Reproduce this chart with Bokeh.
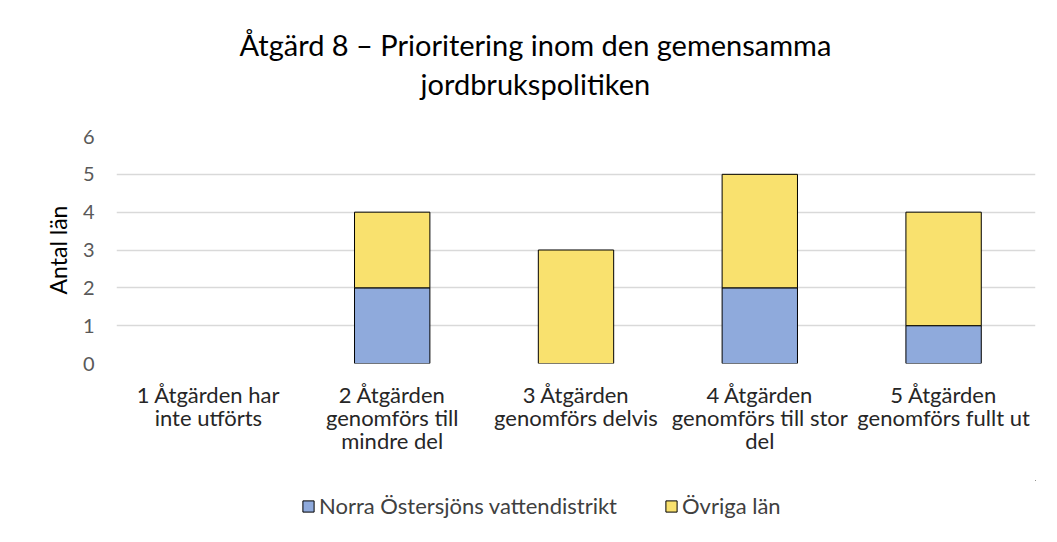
from bokeh.plotting import figure
from bokeh.models import Title, Legend, LegendItem, FactorRange
from bokeh.layouts import column
from bokeh.embed import file_html
from bokeh.resources import INLINE

categories = [
    "1 Åtgärden har\ninte utförts",
    "2 Åtgärden\ngenomförs till\nmindre del",
    "3 Åtgärden\ngenomförs delvis",
    "4 Åtgärden\ngenomförs till stor\ndel",
    "5 Åtgärden\ngenomförs fullt ut",
]
norra = [0, 2, 0, 2, 1]
ovriga = [0, 2, 3, 3, 3]
series_names = ["Norra Östersjöns vattendistrikt", "Övriga län"]
title_lines = ["Åtgärd 8 – Prioritering inom den gemensamma", "jordbrukspolitiken"]
y_label = "Antal län"

FONT = "Lato"
colors = ["#8FAADC", "#F9E16E"]

p = figure(x_range=FactorRange(*categories), y_range=(0, 6),
           width=1048, height=480, output_backend="svg", toolbar_location=None,
           title=None, min_border_left=116, min_border_right=13,
           min_border_top=136, min_border_bottom=117)

# stacked bars (skip zero-height segments so no stray outline is drawn)
bottom = [0] * len(categories)
for vals, col in ((norra, colors[0]), (ovriga, colors[1])):
    xs, bs, ts = [], [], []
    for c, b, v in zip(categories, bottom, vals):
        if v > 0:
            xs.append(c); bs.append(b); ts.append(b + v)
    p.vbar(x=xs, bottom=bs, top=ts, width=0.41, fill_color=col,
           line_color="black", line_width=1)
    bottom = [b + v for b, v in zip(bottom, vals)]

# title: spacer (closest to frame), line 2, line 1
spacer = Title(text="\u00a0", text_font=FONT, text_font_size="10px", standoff=22)
t2 = Title(text=title_lines[1], align="left", offset=304, standoff=0, text_font=FONT,
           text_font_size="29px", text_font_style="normal", text_color="#000000")
t1 = Title(text=title_lines[0], align="left", offset=123, standoff=4, text_font=FONT,
           text_font_size="29px", text_font_style="normal", text_color="#000000")
p.add_layout(spacer, "above")
p.add_layout(t2, "above")
p.add_layout(t1, "above")

p.outline_line_color = None
p.xgrid.grid_line_color = None
p.ygrid.grid_line_color = "#D9D9D9"
p.ygrid.grid_line_width = 1.5

p.yaxis.axis_label = y_label
p.yaxis.axis_label_text_font = FONT
p.yaxis.axis_label_text_font_size = "23px"
p.yaxis.axis_label_text_font_style = "normal"
p.yaxis.axis_label_text_color = "#000000"
p.yaxis.axis_label_standoff = 8
p.yaxis.ticker = [0, 1, 2, 3, 4, 5, 6]
p.yaxis.major_label_text_font = FONT
p.yaxis.major_label_text_font_size = "20px"
p.yaxis.major_label_text_color = "#595959"
p.yaxis.major_label_standoff = 16

for ax in (p.xaxis, p.yaxis):
    ax.axis_line_color = None
    ax.major_tick_line_color = None
    ax.minor_tick_line_color = None

p.xaxis.major_label_text_font = FONT
p.xaxis.major_label_text_font_size = "22px"
p.xaxis.major_label_text_color = "#262626"
p.xaxis.major_label_text_line_height = 0.86
p.xaxis.major_label_standoff = 11
p.xaxis.major_label_orientation = "horizontal"

# legend strip below the chart (swatch renderers sit outside its visible range)
p2 = figure(width=1048, height=50, output_backend="svg", toolbar_location=None,
            x_range=(0, 1), y_range=(0, 1),
            x_axis_type=None, y_axis_type=None, title=None,
            min_border_left=0, min_border_right=0, min_border_top=0, min_border_bottom=0)
p2.outline_line_color = None
p2.grid.visible = False
lr = [p2.vbar(x=[5], bottom=[5], top=[6], width=0.41, fill_color=c,
              line_color="black", line_width=1)
      for c in colors]
legend = Legend(items=[LegendItem(label=series_names[0], renderers=[lr[0]]),
                       LegendItem(label=series_names[1], renderers=[lr[1]])],
                orientation="horizontal", location=(185, 11),
                label_text_font=FONT, label_text_font_size="22px",
                label_text_color="#404040", glyph_width=14, glyph_height=14,
                label_standoff=4, spacing=47, border_line_color=None,
                background_fill_alpha=0, padding=0, margin=0)
p2.add_layout(legend, "center")

layout = column(p, p2, spacing=0)
open("out.html", "w").write(file_html(layout, INLINE))
